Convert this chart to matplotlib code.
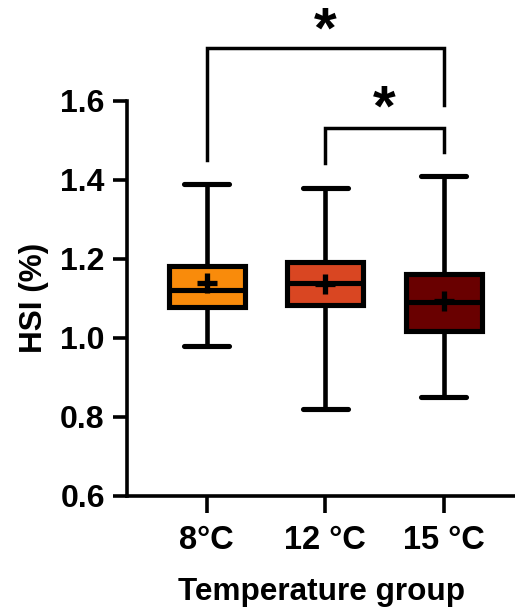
import matplotlib
matplotlib.use("Agg")
import matplotlib.pyplot as plt

categories = ["8°C", "12 °C", "15 °C"]
whisker_low = [0.98, 0.82, 0.85]
q1 = [1.078, 1.084, 1.018]
median = [1.122, 1.138, 1.090]
q3 = [1.181, 1.191, 1.162]
whisker_high = [1.39, 1.38, 1.41]
means = [1.138, 1.135, 1.092]
colors = ["#F98B0B", "#D94622", "#690000"]

yticks = [0.6, 0.8, 1.0, 1.2, 1.4, 1.6]

plt.rcParams['font.family'] = ['Liberation Sans', 'DejaVu Sans']
plt.rcParams['font.weight'] = 'bold'

fig = plt.figure(figsize=(5.15, 6.07), dpi=100)
ax = fig.add_axes([127/515, 1 - 495.7/607, 1 - 127/515, (495.7 - 100.7)/607])

stats = []
for i in range(len(categories)):
    stats.append(dict(med=median[i], q1=q1[i], q3=q3[i],
                      whislo=whisker_low[i], whishi=whisker_high[i],
                      mean=means[i], fliers=[], label=categories[i]))

positions = list(range(1, len(categories) + 1))
bp = ax.bxp(stats, positions=positions, widths=0.64, patch_artist=True,
            showmeans=True, showfliers=False,
            boxprops=dict(linewidth=3.7, edgecolor='black'),
            medianprops=dict(color='black', linewidth=3.7),
            whiskerprops=dict(color='black', linewidth=3.3),
            capprops=dict(color='black', linewidth=3.7, solid_capstyle='round'),
            meanprops=dict(marker='+', markersize=15, markeredgewidth=3.8,
                           markeredgecolor='black'),
            capwidths=0.38)
for patch, c in zip(bp['boxes'], colors):
    patch.set_facecolor(c)

ax.set_ylim(0.6, 1.6)
ax.set_xlim(0.328, 3.6)
ax.set_yticks(yticks)
ax.set_yticklabels([f"{t:.1f}" for t in yticks], fontsize=23, fontweight='bold')
ax.set_xticks(positions)
ax.set_xticklabels(categories, fontsize=23.5, fontweight='bold')

for s in ['top', 'right']:
    ax.spines[s].set_visible(False)
for s in ['left', 'bottom']:
    ax.spines[s].set_linewidth(2.6)
ax.tick_params(axis='y', length=10, width=2.6, pad=6)
ax.tick_params(axis='x', length=12, width=2.6, pad=9)

ax.set_ylabel("HSI (%)", fontsize=22.7, fontweight='bold', labelpad=8)
ax.set_xlabel("Temperature group", fontsize=22.7, fontweight='bold', labelpad=15)

# significance brackets
def bracket(x1, x2, y, yl1, yl2, ys):
    ax.plot([x1, x1, x2, x2], [yl1, y, y, yl2], color='black', lw=2.5,
            clip_on=False, solid_joinstyle='miter')
    ax.text((x1 + x2) / 2, ys, "*", ha='center', va='center', fontsize=42,
            fontweight='bold', clip_on=False)

bracket(1, 3, 1.733, 1.45, 1.589, 1.772)
bracket(2, 3, 1.532, 1.442, 1.471, 1.575)

fig.savefig("out.png", dpi=100)
